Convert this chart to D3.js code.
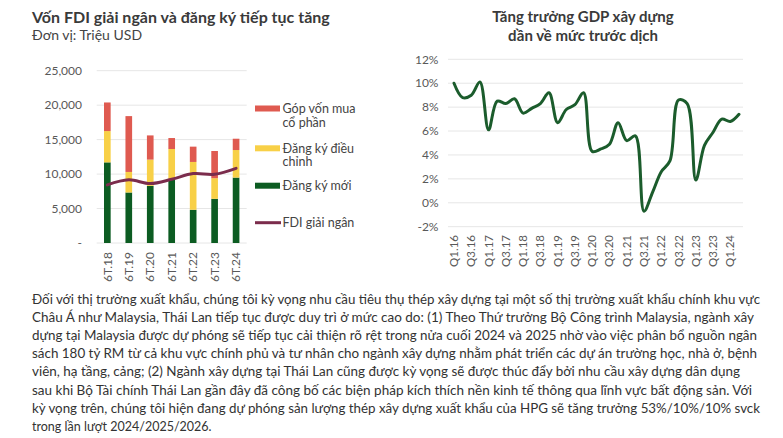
<!DOCTYPE html>
<html><head><meta charset="utf-8">
<script src="https://cdn.jsdelivr.net/npm/d3@7"></script>
<style>
html,body{margin:0;padding:0;background:#fff;}
svg{display:block;font-family:Lato,"Noto Sans",sans-serif;}
</style></head>
<body>
<svg id="c" width="783" height="438"></svg>
<script>
// ---- Left chart data (Triệu USD) ----
const periods = ["6T.18","6T.19","6T.20","6T.21","6T.22","6T.23","6T.24"];
const dangKyMoi = [11700, 7330, 8290, 9300, 4820, 6410, 9490];
const dangKyDieuChinh = [4540, 2980, 3810, 4340, 6940, 2990, 4000];
const gopVon = [4150, 8100, 3510, 1590, 2220, 3950, 1640];
const fdiGiaiNgan = [8430, 9160, 8630, 9250, 10070, 9980, 10840];
const leftTicks = [0, 5000, 10000, 15000, 20000, 25000];

// ---- Right chart data (%) ----
const quarters = [
 "Q1.16","Q2.16","Q3.16","Q4.16","Q1.17","Q2.17","Q3.17","Q4.17",
 "Q1.18","Q2.18","Q3.18","Q4.18","Q1.19","Q2.19","Q3.19","Q4.19",
 "Q1.20","Q2.20","Q3.20","Q4.20","Q1.21","Q2.21","Q3.21","Q4.21",
 "Q1.22","Q2.22","Q3.22","Q4.22","Q1.23","Q2.23","Q3.23","Q4.23",
 "Q1.24","Q2.24"];
const gdpXayDung = [
 10.0, 8.8, 9.0, 10.1, 6.1, 8.5, 8.3, 8.7,
 7.5, 7.9, 8.3, 9.2, 6.7, 7.8, 8.2, 9.2,
 4.3, 4.5, 4.9, 6.7, 5.2, 5.6, -0.7, 0.9,
 2.6, 3.5, 8.6, 8.3, 1.9, 4.8, 5.9, 7.0,
 6.8, 7.4];
const rightTicks = [-2, 0, 2, 4, 6, 8, 10, 12];

const paragraph = [
 "Đối với thị trường xuất khẩu, chúng tôi kỳ vọng nhu cầu tiêu thụ thép xây dựng tại một số thị trường xuất khẩu chính khu vực",
 "Châu Á như Malaysia, Thái Lan tiếp tục được duy trì ở mức cao do: (1) Theo Thứ trưởng Bộ Công trình Malaysia, ngành xây",
 "dựng tại Malaysia được dự phóng sẽ tiếp tục cải thiện rõ rệt trong nửa cuối 2024 và 2025 nhờ vào việc phân bổ nguồn ngân",
 "sách 180 tỷ RM từ cả khu vực chính phủ và tư nhân cho ngành xây dựng nhằm phát triển các dự án trường học, nhà ở, bệnh",
 "viên, hạ tầng, cảng; (2) Ngành xây dựng tại Thái Lan cũng được kỳ vọng sẽ được thúc đẩy bởi nhu cầu xây dựng dân dụng",
 "sau khi Bộ Tài chính Thái Lan gần đây đã công bố các biện pháp kích thích nền kinh tế thông qua lĩnh vực bất động sản. Với",
 "kỳ vọng trên, chúng tôi hiện đang dự phóng sản lượng thép xây dựng xuất khẩu của HPG sẽ tăng trưởng 53%/10%/10% svck",
 "trong lần lượt 2024/2025/2026."
];
const paraEnds = [760, 754, 757, 757, 740, 752, 760, null];

const svg = d3.select("#c");
const gridCol = "#e6e6e6", tickCol = "#595959";
const cRed = "#df5a50", cYel = "#f8d047", cGrn = "#0c5c22", cFdi = "#7b2c4c", cGdp = "#1b5c2c";

// ---- Titles ----
svg.append("text").attr("x", 32).attr("y", 22.5).attr("font-size", 16).attr("font-weight", 700)
  .attr("fill", "#3a3a3a").text("Vốn FDI giải ngân và đăng ký tiếp tục tăng");
svg.append("text").attr("x", 32).attr("y", 40).attr("font-size", 14).attr("fill", "#444")
  .text("Đơn vị: Triệu USD");
svg.append("text").attr("x", 583).attr("y", 22).attr("text-anchor", "middle").attr("font-size", 15)
  .attr("font-weight", 700).attr("fill", "#3a3a3a").text("Tăng trưởng GDP xây dựng");
svg.append("text").attr("x", 583).attr("y", 40.5).attr("text-anchor", "middle").attr("font-size", 15)
  .attr("font-weight", 700).attr("fill", "#3a3a3a").text("dần về mức trước dịch");

// ---- Left chart ----
const yL = d3.scaleLinear().domain([0, 25000]).range([243, 70.7]);
const xL = d3.scaleBand().domain(periods).range([96.6, 246.8]).paddingInner(0.69).paddingOuter(0.345);
const gL = svg.append("g");
gL.selectAll("line.grid").data(leftTicks).join("line")
  .attr("x1", 96.7).attr("x2", 246.7).attr("y1", d => yL(d)).attr("y2", d => yL(d))
  .attr("stroke", gridCol).attr("stroke-width", 1);
gL.selectAll("text.yt").data(leftTicks).join("text")
  .attr("x", 82).attr("y", d => yL(d)).attr("dy", "0.35em").attr("text-anchor", "end")
  .attr("font-size", 12).attr("fill", tickCol)
  .text(d => d === 0 ? "-" : d3.format(",")(d));

const stackData = periods.map((p, i) => ({p, moi: dangKyMoi[i], dc: dangKyDieuChinh[i], gv: gopVon[i]}));
const stack = d3.stack().keys(["moi", "dc", "gv"])(stackData);
const colors = {moi: cGrn, dc: cYel, gv: cRed};
gL.selectAll("g.s").data(stack).join("g").attr("fill", d => colors[d.key])
  .selectAll("rect").data(d => d).join("rect")
  .attr("x", d => xL(d.data.p)).attr("width", xL.bandwidth())
  .attr("y", d => yL(d[1])).attr("height", d => yL(d[0]) - yL(d[1]));

const fdiLine = d3.line().x((d, i) => xL(periods[i]) + xL.bandwidth() / 2).y(d => yL(d))
  .curve(d3.curveCatmullRom);
gL.append("path").datum(fdiGiaiNgan).attr("d", fdiLine).attr("fill", "none")
  .attr("stroke", cFdi).attr("stroke-width", 3).attr("stroke-linecap", "round");

gL.selectAll("text.xt").data(periods).join("text")
  .attr("transform", d => `translate(${xL(d) + xL.bandwidth() / 2},252) rotate(-90)`)
  .attr("dy", "0.35em").attr("text-anchor", "end").attr("font-size", 12).attr("fill", tickCol)
  .text(d => d);

// legend
const legend = [
  {type: "rect", c: cRed, y: 108.5, lines: ["Góp vốn mua", "cổ phần"]},
  {type: "rect", c: cYel, y: 148.3, lines: ["Đăng ký điều", "chỉnh"]},
  {type: "rect", c: cGrn, y: 185.7, lines: ["Đăng ký mới"]},
  {type: "line", c: cFdi, y: 222.7, lines: ["FDI giải ngân"]}
];
legend.forEach(l => {
  if (l.type === "rect") svg.append("rect").attr("x", 255).attr("y", l.y - 3).attr("width", 25).attr("height", 6).attr("fill", l.c);
  else svg.append("line").attr("x1", 255).attr("x2", 281).attr("y1", l.y).attr("y2", l.y).attr("stroke", l.c).attr("stroke-width", 3);
  l.lines.forEach((t, j) => svg.append("text").attr("x", 282.5).attr("y", l.y + 4.5 + j * 13.5)
    .attr("font-size", 12.5).attr("fill", "#444").text(t));
});

// ---- Right chart ----
const yR = d3.scaleLinear().domain([-2, 12]).range([226.7, 59.3]);
const xR = d3.scalePoint().domain(quarters).range([454, 739]);
const gR = svg.append("g");
gR.selectAll("line.grid").data(rightTicks).join("line")
  .attr("x1", 448).attr("x2", 743).attr("y1", d => yR(d)).attr("y2", d => yR(d))
  .attr("stroke", gridCol).attr("stroke-width", 1);
gR.selectAll("text.yt").data(rightTicks).join("text")
  .attr("x", 438.5).attr("y", d => yR(d)).attr("dy", "0.35em").attr("text-anchor", "end")
  .attr("font-size", 12).attr("fill", tickCol).text(d => d + "%");
const gdpLine = d3.line().x((d, i) => xR(quarters[i])).y(d => yR(d)).curve(d3.curveCatmullRom);
gR.append("path").datum(gdpXayDung).attr("d", gdpLine).attr("fill", "none")
  .attr("stroke", cGdp).attr("stroke-width", 3).attr("stroke-linejoin", "round").attr("stroke-linecap", "round");
gR.selectAll("text.xt").data(quarters.filter((q, i) => i % 2 === 0)).join("text")
  .attr("transform", d => `translate(${xR(d)},235) rotate(-90)`)
  .attr("dy", "0.35em").attr("text-anchor", "end").attr("font-size", 11.5).attr("fill", tickCol)
  .text(d => d);

// ---- Paragraph ----
paragraph.forEach((t, i) => {
  const el = svg.append("text").attr("x", 32).attr("y", 304 + i * 18.1).attr("font-size", 12.5)
    .attr("fill", "#333").text(t);
  if (paraEnds[i]) el.attr("textLength", paraEnds[i] - 32).attr("lengthAdjust", "spacingAndGlyphs");
});
</script>
</body></html>
